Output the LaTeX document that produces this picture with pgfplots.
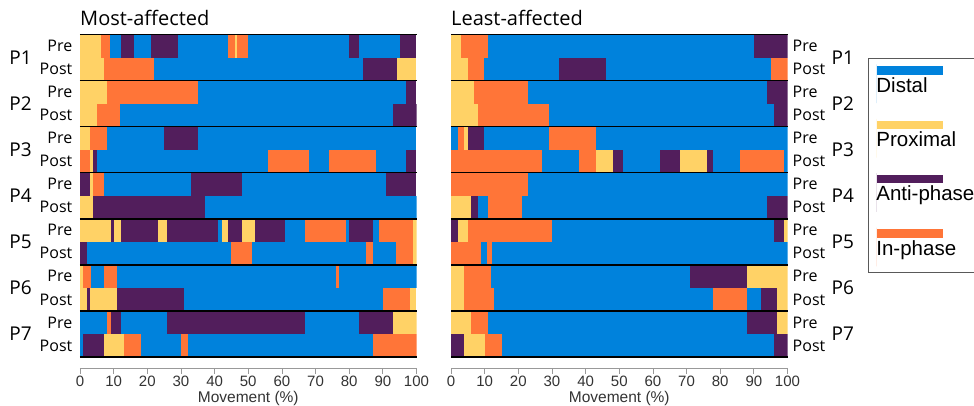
\documentclass[border=0pt]{standalone}
\usepackage{fontspec}
\setmainfont{Liberation Sans}
\newfontfamily\osans{Open Sans}
\usepackage{pgfplots}
\usepackage{pgfplotstable}
\pgfplotsset{compat=1.18}
\definecolor{dist}{RGB}{0,130,220}
\definecolor{prox}{RGB}{255,210,102}
\definecolor{anti}{RGB}{82,30,92}
\definecolor{inph}{RGB}{255,117,56}

% c: 0 Distal, 1 Proximal, 2 Anti-phase, 3 In-phase
\pgfplotstableread{
y x0 x1 c
-1 0 6.1 1
-1 6.1 8.9 3
-1 8.9 12.1 0
-1 12.1 16 2
-1 16 21.1 0
-1 21.1 29 2
-1 29 44.1 0
-1 44.1 46 3
-1 46 46.8 1
-1 46.8 50 3
-1 50 79.9 0
-1 79.9 82.9 2
-1 82.9 95 0
-1 95 100 2
-2 0 7.1 1
-2 7.1 22 3
-2 22 84 0
-2 84 94.1 2
-2 94.1 100 1
-3 0 8.1 1
-3 8.1 35 3
-3 35 97 0
-3 97 100 2
-4 0 5 1
-4 5 12 3
-4 12 93 0
-4 93 100 2
-5 0 3 1
-5 3 8 3
-5 8 25 0
-5 25 35 2
-5 35 100 0
-6 0 3 3
-6 3 4 1
-6 4 5 2
-6 5 56 0
-6 56 68 3
-6 68 74 0
-6 74 88 3
-6 88 97 0
-6 97 100 2
-7 0 3 2
-7 3 4 1
-7 4 7 3
-7 7 33 0
-7 33 48 2
-7 48 91 0
-7 91 100 2
-8 0 4 1
-8 4 37 2
-8 37 100 0
-9 0 9.1 1
-9 9.1 10.1 2
-9 10.1 12.1 1
-9 12.1 23.1 2
-9 23.1 26 1
-9 26 41.1 2
-9 41.1 42.1 0
-9 42.1 44.1 1
-9 44.1 48 2
-9 48 52 1
-9 52 61 2
-9 61 67 0
-9 67 79 3
-9 79 80 0
-9 80 87 2
-9 87 89 0
-9 89 99 3
-9 99 100 1
-10 0 2 2
-10 2 45 0
-10 45 51 3
-10 51 85 0
-10 85 87 3
-10 87 94 0
-10 94 99 3
-10 99 100 1
-11 0 1 1
-11 1 3.2 3
-11 3.2 7.1 0
-11 7.1 11.1 3
-11 11.1 76 0
-11 76 77 3
-11 77 100 0
-12 0 2 1
-12 2 3 2
-12 3 11.1 1
-12 11.1 31 2
-12 31 90 0
-12 90 98 3
-12 98 100 1
-13 0 8.1 0
-13 8.1 9.1 3
-13 9.1 12.1 2
-13 12.1 26 0
-13 26 67 2
-13 67 83 0
-13 83 93 2
-13 93 100 1
-14 0 1 0
-14 1 7 2
-14 7 13 1
-14 13 18 3
-14 18 30 0
-14 30 32.2 3
-14 32.2 87 0
-14 87 100 3
}\leftdata

\pgfplotstableread{
y x0 x1 c
-1 0 3 1
-1 3 10.9 3
-1 10.9 90 0
-1 90 100 2
-2 0 5 1
-2 5 9.9 3
-2 9.9 32 0
-2 32 46 2
-2 46 95 0
-2 95 100 3
-3 0 6.9 1
-3 6.9 23 3
-3 23 94 0
-3 94 100 2
-4 0 7.9 1
-4 7.9 29 3
-4 29 96 0
-4 96 100 2
-5 0 2 0
-5 2 4 3
-5 4 5 1
-5 5 9.9 2
-5 9.9 29 0
-5 29 43 3
-5 43 100 0
-6 0 27 3
-6 27 38 0
-6 38 43 3
-6 43 48 1
-6 48 51 2
-6 51 62 0
-6 62 68 2
-6 68 76 1
-6 76 78 2
-6 78 86 0
-6 86 99 3
-6 99 100 0
-7 0 23 3
-7 23 100 0
-8 0 5.9 1
-8 5.9 7.9 2
-8 7.9 11.1 0
-8 11.1 21 3
-8 21 94 0
-8 94 100 2
-9 0 2 2
-9 2 5 1
-9 5 30 3
-9 30 96 0
-9 96 99 2
-9 99 100 1
-10 0 8.9 3
-10 8.9 10.6 0
-10 10.6 12.3 3
-10 12.3 100 0
-11 0 4 1
-11 4 11.9 3
-11 11.9 71 0
-11 71 88 2
-11 88 100 1
-12 0 4 1
-12 4 12.9 3
-12 12.9 78 0
-12 78 88 3
-12 88 92 0
-12 92 97 2
-12 97 100 1
-13 0 5.9 1
-13 5.9 10.9 3
-13 10.9 88 0
-13 88 97 2
-13 97 100 1
-14 0 4 2
-14 4 10.1 1
-14 10.1 15.2 3
-14 15.2 96 0
-14 96 100 2
}\rightdata

\pgfplotsset{
  seg/.style n args={2}{forget plot, draw=none, mark=none, mark size=0pt,
    restrict expr to domain={\thisrow{c}}{#1},
    error bars/.cd, x dir=both, x explicit, error mark=none,
    error bar style={line width=23.1pt, draw=#2, line cap=butt, solid}},
  panel/.style={
    width=336.5pt, height=334pt, scale only axis,
    xmin=0, xmax=100, ymin=-15, ymax=-0.5,
    axis on top,
    axis x line*=bottom,
    x axis line style={-, draw=black!40, line width=0.8pt},
    y axis line style={draw=none},
    xtick={0,10,...,100},
    xtick align=outside,
    xtick style={draw=black!40, line width=0.8pt},
    major tick length=5pt,
    /pgf/number format/assume math mode=true,
    xticklabel style={font=\fontsize{15}{18}\selectfont, text=black!80, yshift=1.5pt},
    xlabel={Movement (\%)},
    xlabel style={font=\fontsize{15.5}{18}\selectfont, text=black!80, at={(axis description cs:0.5,0)}, anchor=base, yshift=-34pt, inner sep=0pt},
    ytick={-1,-2,...,-14},
    yticklabels={Pre,Post,Pre,Post,Pre,Post,Pre,Post,Pre,Post,Pre,Post,Pre,Post},
    ytick align=inside,
    ytick style={draw=none},
    extra y ticks={-1.5,-3.5,...,-13.5},
    extra y tick labels={P1,P2,P3,P4,P5,P6,P7},
    minor ytick={-0.5,-2.5,...,-14.5},
    yminorgrids, minor grid style={black, line width=1.5pt},
    minor tick length=0pt,
    title style={at={(0,1)}, anchor=base west, yshift=3pt, inner sep=0pt, font=\osans\fontsize{20}{24}\selectfont},
  },
}

\begin{document}
\begin{tikzpicture}
\begin{axis}[panel, name=L, axis y line*=left,
  title={Most-affected},
  yticklabel style={font=\osans\fontsize{16}{19}\selectfont, inner xsep=7.5pt, inner ysep=0pt},
  extra y tick style={yticklabel style={font=\osans\fontsize{19}{22}\selectfont, inner xsep=48pt}},
]
\addplot[seg={-0.5:0.5}{dist}] table[x expr={(\thisrow{x0}+\thisrow{x1})/2}, y=y, x error expr={(\thisrow{x1}-\thisrow{x0})/2}] {\leftdata};
\addplot[seg={0.5:1.5}{prox}] table[x expr={(\thisrow{x0}+\thisrow{x1})/2}, y=y, x error expr={(\thisrow{x1}-\thisrow{x0})/2}] {\leftdata};
\addplot[seg={1.5:2.5}{anti}] table[x expr={(\thisrow{x0}+\thisrow{x1})/2}, y=y, x error expr={(\thisrow{x1}-\thisrow{x0})/2}] {\leftdata};
\addplot[seg={2.5:3.5}{inph}] table[x expr={(\thisrow{x0}+\thisrow{x1})/2}, y=y, x error expr={(\thisrow{x1}-\thisrow{x0})/2}] {\leftdata};
\end{axis}
\begin{axis}[panel, name=R, at={(371pt,0pt)}, anchor=south west, axis y line*=right,
  title={Least-affected},
  yticklabel style={font=\osans\fontsize{16}{19}\selectfont, inner xsep=5pt, inner ysep=0pt},
  extra y tick style={yticklabel style={font=\osans\fontsize{19}{22}\selectfont, inner xsep=44pt}},
  legend style={at={(1.2392,0.9296)}, anchor=north west, draw=black!65, line width=0.8pt, fill=white,
    font=\fontsize{20.5}{24}\selectfont, inner xsep=8pt, inner ysep=6pt, row sep=15.7pt,
    cells={anchor=base west}, nodes={inner sep=0pt}},
  legend image code/.code={\path[use as bounding box] (0pt,-11pt) rectangle (0pt,27.7pt);
    \fill[#1,overlay] (1pt,17.5pt) rectangle (67pt,26pt);},
]
\addplot[seg={-0.5:0.5}{dist}] table[x expr={(\thisrow{x0}+\thisrow{x1})/2}, y=y, x error expr={(\thisrow{x1}-\thisrow{x0})/2}] {\rightdata};
\addplot[seg={0.5:1.5}{prox}] table[x expr={(\thisrow{x0}+\thisrow{x1})/2}, y=y, x error expr={(\thisrow{x1}-\thisrow{x0})/2}] {\rightdata};
\addplot[seg={1.5:2.5}{anti}] table[x expr={(\thisrow{x0}+\thisrow{x1})/2}, y=y, x error expr={(\thisrow{x1}-\thisrow{x0})/2}] {\rightdata};
\addplot[seg={2.5:3.5}{inph}] table[x expr={(\thisrow{x0}+\thisrow{x1})/2}, y=y, x error expr={(\thisrow{x1}-\thisrow{x0})/2}] {\rightdata};
\addlegendimage{fill=dist, draw=none}
\addlegendimage{fill=prox, draw=none}
\addlegendimage{fill=anti, draw=none}
\addlegendimage{fill=inph, draw=none}
\legend{Distal,Proximal,Anti-phase,In-phase}
\end{axis}
\pgfresetboundingbox
\path ([shift={(-80pt,-36.5pt)}]L.south west) rectangle ([shift={(894pt,368.5pt)}]L.south west);
\end{tikzpicture}
\end{document}
